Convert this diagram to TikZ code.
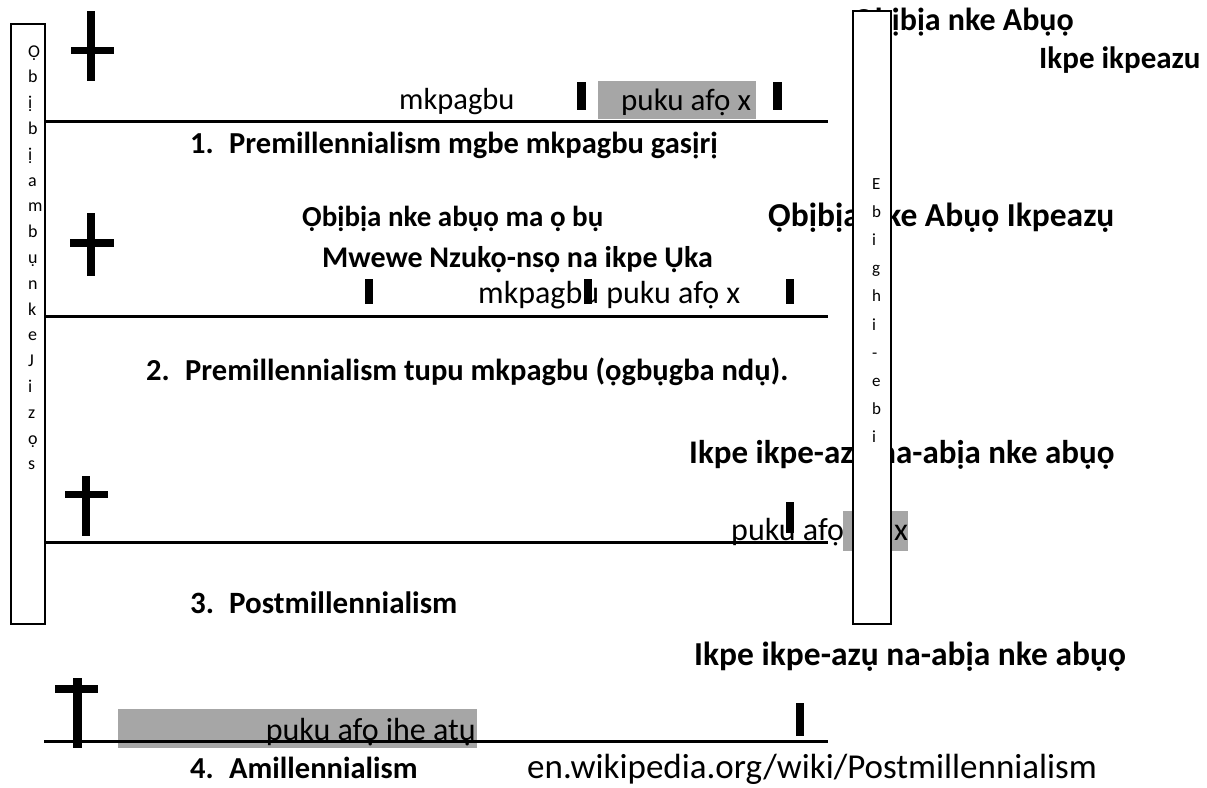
\documentclass[tikz,border=0pt]{standalone}
\usepackage{fontspec}
\setmainfont{Carlito}
\definecolor{hl}{HTML}{A6A6A6}
\begin{document}
\begin{tikzpicture}[x=1pt,y=-1pt,
  txt/.style={inner sep=0pt,anchor=base west,font=\fontsize{31.5}{33}\selectfont},
  btxt/.style={inner sep=0pt,anchor=base west,font=\fontsize{30.5}{32}\selectfont\bfseries},
  vlet/.style={inner sep=0pt,anchor=base west,font=\fontsize{18}{20}\selectfont},
  vletr/.style={inner sep=0pt,anchor=base west,font=\fontsize{17}{19}\selectfont},
  timeline/.style={line width=3pt},
  blk/.style={fill=black,draw=none},
  greybox/.style={fill=hl,draw=none},
  sidebox/.style={draw=black,line width=1.5pt,fill=white}]
\useasboundingbox (0,0) rectangle (1207,787);
% grey highlights
\fill[greybox] (598,81) rectangle (756,119);
\fill[greybox] (843,511) rectangle (908,551);
\fill[greybox] (118,709) rectangle (477,748);
% texts
\node[btxt,anchor=base east,font=\fontsize{32}{34}\selectfont\bfseries] (t1) at (1074,30) {Ọbịbịa nke Abụọ};
\node[btxt,font=\fontsize{31}{33}\selectfont\bfseries] (t2) at (1039,68) {Ikpe ikpeazu};
\node[txt,font=\fontsize{30.5}{32}\selectfont] (m1) at (399,109) {mkpagbu};
\node[txt,font=\fontsize{31}{33}\selectfont] (p1) at (621,110) {puku afọ x};
\node[btxt] (h1) at (190,153) {\makebox[39pt][l]{1.}Premillennialism mgbe mkpagbu gasịrị};
\node[btxt,font=\fontsize{29}{31}\selectfont\bfseries] (t3) at (302,226) {Ọbịbịa nke abụọ ma ọ bụ};
\node[btxt,font=\fontsize{33.5}{35}\selectfont\bfseries] (t4) at (768,226) {Ọbịbịa nke Abụọ Ikpeazụ};
\node[btxt,font=\fontsize{30}{32}\selectfont\bfseries] (t5) at (322,267) {Mwewe Nzukọ-nsọ na ikpe Ụka};
\node[txt,font=\fontsize{32}{34}\selectfont] (p2) at (478,303) {mkpagbu puku afọ x};
\node[btxt] (h2) at (146,380) {\makebox[39pt][l]{2.}Premillennialism tupu mkpagbu (ọgbụgba ndụ).};
\node[btxt,font=\fontsize{33}{35}\selectfont\bfseries] (t6) at (689,463) {Ikpe ikpe-azụ na-abịa nke abụọ};
\node[txt,font=\fontsize{32}{34}\selectfont] (p3) at (731,540) {puku afọ};
\node[txt,font=\fontsize{32}{34}\selectfont] (x3) at (894,540) {x};
\node[btxt,font=\fontsize{31}{33}\selectfont\bfseries] (h3) at (190,613) {\makebox[39pt][l]{3.}Postmillennialism};
\node[btxt,font=\fontsize{33.5}{35}\selectfont\bfseries] (t7) at (694,665) {Ikpe ikpe-azụ na-abịa nke abụọ};
\node[txt,font=\fontsize{32}{34}\selectfont,anchor=base east] (p4) at (476,740) {puku afọ ihe atụ};
\node[btxt] (h4) at (190,778) {\makebox[39pt][l]{4.}Amillennialism};
\node[txt,font=\fontsize{35}{37}\selectfont] (src) at (527,778) {en.wikipedia.org/wiki/Postmillennialism};
% timelines
\coordinate (a1) at (44,121); \coordinate (b1) at (828,121);
\coordinate (a2) at (44,316); \coordinate (b2) at (828,316);
\coordinate (a3) at (44,542); \coordinate (b3) at (828,542);
\coordinate (a4) at (44,741); \coordinate (b4) at (828,741);
\draw[timeline] (a1) -- (b1);
\draw[timeline] (a2) -- (b2);
\draw[timeline] (a3) -- (b3);
\draw[timeline] (a4) -- (b4);
% crosses
\fill[blk] (87,11) rectangle (95,81);  \fill[blk] (71,47) rectangle (114,54);
\fill[blk] (87,213) rectangle (95,276); \fill[blk] (70,239) rectangle (114,247);
\fill[blk] (82,476) rectangle (90,536); \fill[blk] (65,491) rectangle (108,498);
\fill[blk] (73,678) rectangle (82,748); \fill[blk] (55,685) rectangle (98,693);
% markers
\fill[blk] (577,82) rectangle (586,110);
\fill[blk] (773,82) rectangle (782,110);
\fill[blk] (365,279) rectangle (373,304);
\fill[blk] (584,279) rectangle (592,304);
\fill[blk] (786,279) rectangle (794,304);
\fill[blk] (786,502) rectangle (794,533);
\fill[blk] (796,703) rectangle (804,736);
% side boxes
\node[sidebox,minimum width=34pt,minimum height=600pt,inner sep=0pt,anchor=north west] (lb) at (10,23) {};
\node[sidebox,minimum width=38pt,minimum height=613pt,inner sep=0pt,anchor=north west] (rb) at (852,10) {};
\foreach \c [count=\i from 0] in {Ọ,b,ị,b,ị,a,m,b,ụ,n,k,e,J,i,z,ọ,s}
  \node[vlet] (l\i) at (28,57+25.8*\i) {\c};
\foreach \c [count=\i from 0] in {E,b,i,g,h,i,-,e,b,i}
  \node[vletr] (r\i) at (872,189+28.2*\i) {\c};
\end{tikzpicture}
\end{document}
